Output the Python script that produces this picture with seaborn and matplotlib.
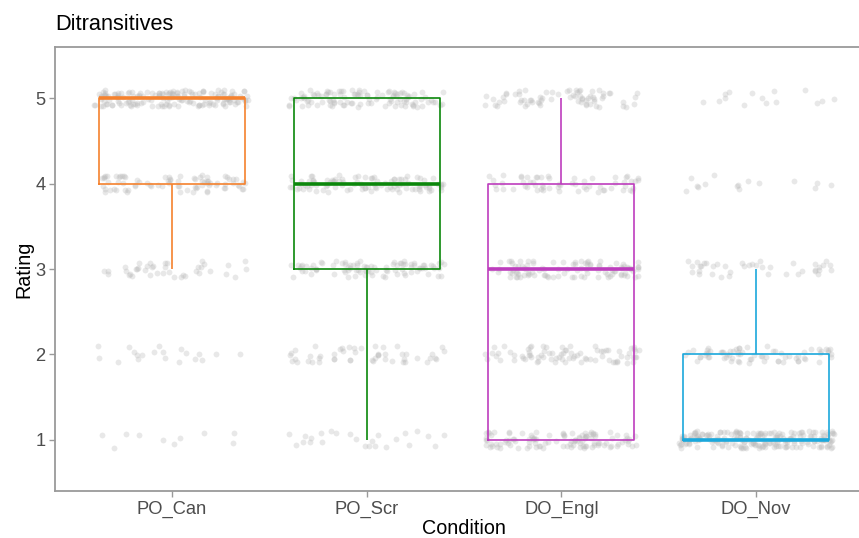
import numpy as np
import pandas as pd
import matplotlib
matplotlib.use("Agg")
import matplotlib.pyplot as plt
import seaborn as sns

# Number of responses at each rating (1..5) per condition
conditions = ["PO_Can", "PO_Scr", "DO_Engl", "DO_Nov"]
ratings = [1, 2, 3, 4, 5]
counts_po_can = [10, 20, 40, 80, 160]
counts_po_scr = [25, 50, 90, 100, 110]
counts_do_engl = [110, 80, 100, 60, 70]
counts_do_nov = [200, 70, 40, 15, 15]
box_colors = ["#F5822E", "#0B870B", "#BD3DBD", "#1BA8DC"]

counts = [counts_po_can, counts_po_scr, counts_do_engl, counts_do_nov]
rows = []
for cond, cnt in zip(conditions, counts):
    for r, n in zip(ratings, cnt):
        rows += [(cond, r)] * n
df = pd.DataFrame(rows, columns=["Condition", "Rating"])
df["Condition"] = pd.Categorical(df["Condition"], categories=conditions, ordered=True)

sns.set_theme(style="white")
plt.rcParams["font.family"] = ["Liberation Sans", "DejaVu Sans"]

fig = plt.figure(figsize=(8.59, 5.38), dpi=100)
ax = fig.add_axes([55 / 859, 47 / 538, 818 / 859, 444 / 538])

np.random.seed(3)
sns.stripplot(data=df, x="Condition", y="Rating", order=conditions,
              jitter=0.4, color="#B8B8B8", alpha=0.32, size=4.2,
              linewidth=0, ax=ax, zorder=1)
# small vertical spread so the points form bands around each rating
rng = np.random.default_rng(7)
for coll in ax.collections:
    off = coll.get_offsets()
    if len(off):
        off = np.array(off)
        off[:, 1] = off[:, 1] + rng.uniform(-0.1, 0.1, len(off))
        coll.set_offsets(off)

sns.boxplot(data=df, x="Condition", y="Rating", order=conditions,
            hue="Condition", hue_order=conditions, palette=box_colors,
            fill=False, width=0.75, whis=1.5, showfliers=False, showcaps=False,
            linewidth=1.2, legend=False,
            medianprops={"linewidth": 2.6}, ax=ax, zorder=3)

ax.set_xlim(-0.6, 3.6)
ax.set_ylim(0.4, 5.6)
ax.set_yticks(ratings)

for side in ["top", "left", "bottom"]:
    ax.spines[side].set_visible(True)
    ax.spines[side].set_color("#9A9A9A")
    ax.spines[side].set_linewidth(1.3)
ax.spines["right"].set_visible(False)

ax.tick_params(axis="both", which="major", length=4, width=1.0, color="#9A9A9A",
               labelsize=13.2, labelcolor="#4D4D4D", bottom=True, left=True, pad=3)
ax.set_xlabel("Condition", fontsize=14.2, color="black")
ax.set_ylabel("Rating", fontsize=14.2, color="black")
ax.xaxis.set_label_coords(0.5, -0.062)
ax.yaxis.set_label_coords(-0.027, 0.5)
fig.text(55 / 859, 1 - 25 / 538, "Ditransitives", fontsize=15.7, color="black",
         ha="left", va="center")

fig.savefig("out.png", dpi=100)
